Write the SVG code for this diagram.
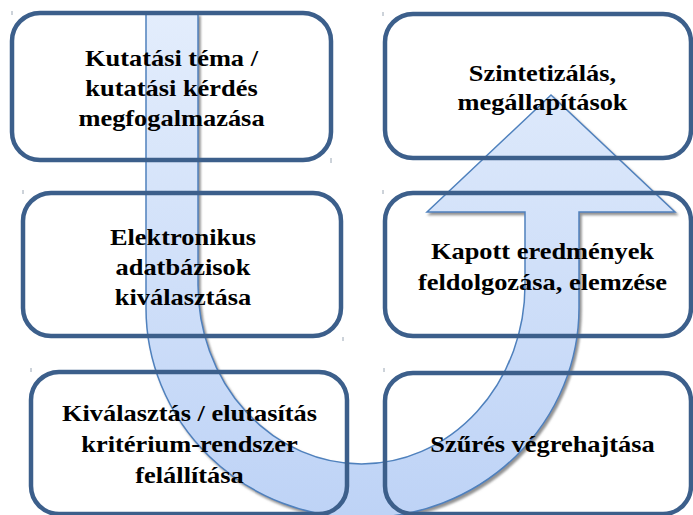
<svg xmlns="http://www.w3.org/2000/svg" width="693" height="515" viewBox="0 0 693 515">
  <defs>
    <linearGradient id="arrowFill" gradientUnits="userSpaceOnUse" x1="0" y1="14" x2="0" y2="514">
      <stop offset="0" stop-color="#e3edfc"/>
      <stop offset="1" stop-color="#bed3f6"/>
    </linearGradient>
    <filter id="shadow" x="-5%" y="-5%" width="110%" height="110%">
      <feDropShadow dx="2" dy="2.5" stdDeviation="0.8" flood-color="#7f7f7f" flood-opacity="0.85"/>
    </filter>
    <style>
      .box { fill: none; stroke: #3c5f8b; stroke-width: 4.5; }
      .lbl { font-family: "Liberation Serif", "Times New Roman", serif; font-weight: bold; font-size: 24px; fill: #000; text-anchor: middle; }
      .tick { stroke: #9aa6b4; stroke-width: 1; }
    </style>
  </defs>
  <rect width="693" height="515" fill="#ffffff"/>

  <g id="connectors">
    <path id="u-arrow" filter="url(#shadow)" fill="url(#arrowFill)" stroke="#4f81bd" stroke-width="1.5" stroke-linejoin="miter"
      d="M 146 14 L 146 308 A 216.5 210 0 0 0 362.5 518 A 216.5 210 0 0 0 579 308 L 579 212 L 675 212 L 551 95 L 427 212 L 525 212 L 525 285 A 163.5 179 0 0 1 361.5 464 A 163.5 179 0 0 1 198 285 L 198 14 Z"/>
  </g>

  <g id="ticks">
    <line class="tick" x1="12" y1="11" x2="12" y2="15"/>
    <line class="tick" x1="331" y1="158" x2="331" y2="163"/>
    <line class="tick" x1="23" y1="190" x2="23" y2="194"/>
    <line class="tick" x1="343" y1="337" x2="343" y2="341"/>
    <line class="tick" x1="31" y1="368" x2="31" y2="372"/>
    <line class="tick" x1="383" y1="12" x2="383" y2="16"/>
    <line class="tick" x1="383" y1="190" x2="383" y2="194"/>
    <line class="tick" x1="384" y1="368" x2="384" y2="372"/>
  </g>

  <g id="node1">
    <rect class="box" x="12" y="13" width="319" height="147" rx="28" ry="28"/>
    <g transform="translate(171.5,0) scale(1.1,1)">
      <text class="lbl" x="0" y="66.5">Kutatási téma /</text>
      <text class="lbl" x="0" y="96.5">kutatási kérdés</text>
      <text class="lbl" x="0" y="126">megfogalmazása</text>
    </g>
  </g>

  <g id="node2">
    <rect class="box" x="23" y="193" width="318" height="143" rx="28" ry="28"/>
    <g transform="translate(183,0) scale(1.1,1)">
      <text class="lbl" x="0" y="245">Elektronikus</text>
      <text class="lbl" x="0" y="275.5">adatbázisok</text>
      <text class="lbl" x="0" y="305.5">kiválasztása</text>
    </g>
  </g>

  <g id="node3">
    <rect class="box" x="31" y="372" width="316" height="142" rx="28" ry="28"/>
    <g transform="translate(189.5,0) scale(1.1,1)">
      <text class="lbl" x="0" y="421.5">Kiválasztás / elutasítás</text>
      <text class="lbl" x="0" y="452">kritérium-rendszer</text>
      <text class="lbl" x="0" y="483.5">felállítása</text>
    </g>
  </g>

  <g id="node4">
    <rect class="box" x="385" y="14" width="306" height="144" rx="28" ry="28"/>
    <g transform="translate(542.5,0) scale(1.1,1)">
      <text class="lbl" x="0" y="81">Szintetizálás,</text>
      <text class="lbl" x="0" y="110">megállapítások</text>
    </g>
  </g>

  <g id="node5">
    <rect class="box" x="385" y="193" width="306" height="143" rx="28" ry="28"/>
    <g transform="translate(542.5,0) scale(1.1,1)">
      <text class="lbl" x="0" y="259.5">Kapott eredmények</text>
      <text class="lbl" x="0" y="290">feldolgozása, elemzése</text>
    </g>
  </g>

  <g id="node6">
    <rect class="box" x="385" y="373" width="306" height="141" rx="28" ry="28"/>
    <g transform="translate(542.5,0) scale(1.1,1)">
      <text class="lbl" x="0" y="452">Szűrés végrehajtása</text>
    </g>
  </g>
</svg>
